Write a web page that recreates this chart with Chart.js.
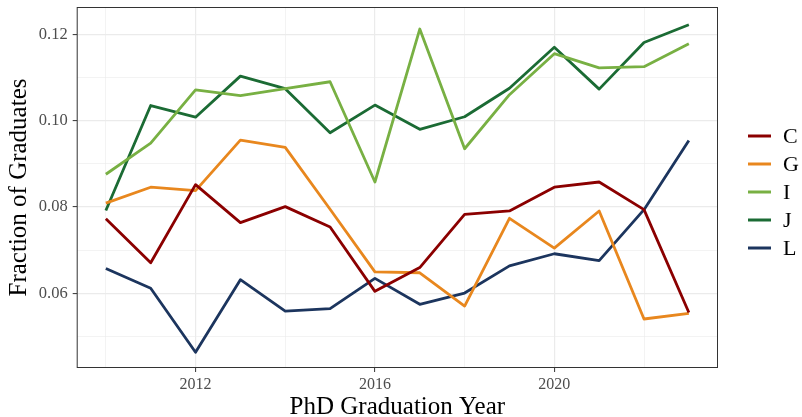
<!DOCTYPE html>
<html>
<head>
<meta charset="utf-8">
<script src="https://cdn.jsdelivr.net/npm/chart.js@4"></script>
<style>
  html, body { margin: 0; padding: 0; background: #fff; }
  #wrap { width: 802px; height: 417px; }
</style>
</head>
<body>
<div id="wrap"><canvas id="gradChart" width="802" height="417"></canvas></div>
<script>
// data
const years = [2010, 2011, 2012, 2013, 2014, 2015, 2016, 2017, 2018, 2019, 2020, 2021, 2022, 2023];
const seriesC = [0.0773, 0.0671, 0.0852, 0.0764, 0.0801, 0.0754, 0.0605, 0.0660, 0.0783, 0.0791, 0.0846, 0.0858, 0.0794, 0.0556];
const seriesG = [0.0809, 0.0846, 0.0838, 0.0955, 0.0938, 0.0795, 0.0650, 0.0648, 0.0571, 0.0774, 0.0705, 0.0791, 0.0541, 0.0554];
const seriesI = [0.0876, 0.0948, 0.1071, 0.1058, 0.1074, 0.1090, 0.0858, 0.1212, 0.0935, 0.1060, 0.1155, 0.1122, 0.1125, 0.1178];
const seriesJ = [0.0792, 0.1035, 0.1008, 0.1103, 0.1074, 0.0972, 0.1036, 0.0980, 0.1009, 0.1075, 0.1170, 0.1073, 0.1181, 0.1222];
const seriesL = [0.0658, 0.0612, 0.0464, 0.0632, 0.0559, 0.0565, 0.0635, 0.0575, 0.0601, 0.0664, 0.0692, 0.0676, 0.0794, 0.0954];

const seriesNames = ['C', 'G', 'I', 'J', 'L'];
const seriesColors = ['#8B0000', '#E8871E', '#78B043', '#1B6B34', '#1C355E'];

// tick positions (major get labels, minor only grid lines)
const xMajorTicks = [2012, 2016, 2020];
const xMinorTicks = [2010, 2014, 2018, 2022];
const yMajorTicks = [0.06, 0.08, 0.10, 0.12];
const yMinorTicks = [0.05, 0.07, 0.09, 0.11];

const serif = "'Liberation Serif', 'DejaVu Serif', serif";
const allSeries = [seriesC, seriesG, seriesI, seriesJ, seriesL];

const isMajor = (list, v) => list.some(t => Math.abs(t - v) < 1e-6);

// panel border all round (theme_bw style)
const panelBorder = {
  id: 'panelBorder',
  afterDraw(chart) {
    const { ctx, chartArea: a } = chart;
    ctx.save();
    ctx.strokeStyle = '#333333';
    ctx.lineWidth = 1;
    ctx.strokeRect(a.left + 0.5, a.top + 0.5, a.right - a.left - 1, a.bottom - a.top - 1);
    ctx.restore();
  }
};

// legend on the right, built from the datasets
const sideLegend = {
  id: 'sideLegend',
  afterDraw(chart) {
    const ctx = chart.ctx;
    ctx.save();
    ctx.font = '22px ' + serif;
    ctx.textBaseline = 'middle';
    ctx.textAlign = 'left';
    chart.data.datasets.forEach((ds, i) => {
      const y = 136 + i * 28;
      ctx.strokeStyle = ds.borderColor;
      ctx.lineWidth = 3;
      ctx.beginPath();
      ctx.moveTo(748, y);
      ctx.lineTo(771, y);
      ctx.stroke();
      ctx.fillStyle = '#000';
      ctx.fillText(ds.label, 783, y + 1);
    });
    ctx.restore();
  }
};

const ctx = document.getElementById('gradChart').getContext('2d');
new Chart(ctx, {
  type: 'line',
  data: {
    datasets: seriesNames.map((name, i) => ({
      label: name,
      data: years.map((yr, j) => ({ x: yr, y: allSeries[i][j] })),
      borderColor: seriesColors[i],
      backgroundColor: seriesColors[i],
      borderWidth: 2.8,
      borderJoinStyle: 'round',
      pointRadius: 0,
      tension: 0,
      fill: false
    }))
  },
  options: {
    responsive: false,
    animation: false,
    layout: { padding: { top: 7, right: 84, left: 0, bottom: 0 } },
    plugins: {
      legend: { display: false },
      tooltip: { enabled: false }
    },
    scales: {
      x: {
        type: 'linear',
        min: 2009.35,
        max: 2023.65,
        afterBuildTicks: (scale) => {
          scale.ticks = xMinorTicks.concat(xMajorTicks).sort((a, b) => a - b).map(v => ({ value: v }));
        },
        afterFit: (scale) => {
          scale.height = 49;
          scale.paddingLeft = 0;
          scale.paddingRight = 0;
        },
        border: { display: false },
        grid: {
          color: '#EBEBEB',
          lineWidth: (c) => isMajor(xMajorTicks, c.tick.value) ? 1.2 : 0.6,
          tickLength: 4,
          tickColor: (c) => isMajor(xMajorTicks, c.tick.value) ? '#333333' : 'rgba(0,0,0,0)',
          tickWidth: 1
        },
        ticks: {
          autoSkip: false,
          maxRotation: 0,
          padding: 3,
          color: '#4D4D4D',
          font: { family: serif, size: 16 },
          callback: (v) => isMajor(xMajorTicks, v) ? String(v) : ''
        },
        title: {
          display: true,
          text: 'PhD Graduation Year',
          color: '#000',
          font: { family: serif, size: 25, lineHeight: 0.8 },
          padding: { top: 0, bottom: 0 }
        }
      },
      y: {
        min: 0.04276,
        max: 0.1263,
        afterBuildTicks: (scale) => {
          scale.ticks = yMinorTicks.concat(yMajorTicks).sort((a, b) => a - b).map(v => ({ value: v }));
        },
        afterFit: (scale) => {
          scale.width = 76.7;
          scale.paddingTop = 0;
          scale.paddingBottom = 0;
        },
        border: { display: false },
        grid: {
          color: '#EBEBEB',
          lineWidth: (c) => isMajor(yMajorTicks, c.tick.value) ? 1.2 : 0.6,
          tickLength: 4,
          tickColor: (c) => isMajor(yMajorTicks, c.tick.value) ? '#333333' : 'rgba(0,0,0,0)',
          tickWidth: 1
        },
        ticks: {
          autoSkip: false,
          padding: 5,
          color: '#4D4D4D',
          font: { family: serif, size: 16.5 },
          callback: (v) => isMajor(yMajorTicks, v) ? v.toFixed(2) : ''
        },
        title: {
          display: true,
          text: 'Fraction of Graduates',
          color: '#000',
          font: { family: serif, size: 25, lineHeight: 1 },
          padding: { top: 7, bottom: 0 }
        }
      }
    }
  },
  plugins: [panelBorder, sideLegend]
});
</script>
</body>
</html>
